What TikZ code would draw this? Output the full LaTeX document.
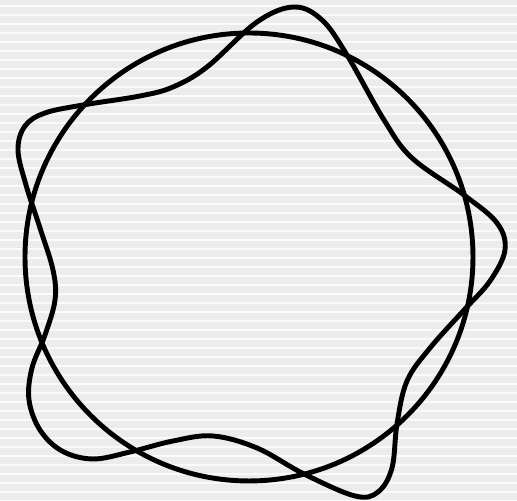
\documentclass[tikz,border=0pt]{standalone}
\usepackage{tikz}
\definecolor{paper}{RGB}{236, 236, 236}
\definecolor{stripe}{RGB}{250, 250, 250}
\definecolor{ink}{RGB}{0, 0, 0}

\begin{document}
\begin{tikzpicture}[x=0.01cm, y=-0.01cm]

  \pgfmathsetmacro{\w}{517}
  \pgfmathsetmacro{\h}{501}
  \pgfmathsetmacro{\r}{224}

  \useasboundingbox (0, 0) rectangle (\w, \h);

  % background
  \fill[paper] (0, 0) rectangle (\w, \h);
  \foreach \y in {6, 15, ..., 501} {
    \fill[stripe] (0, \y - 0.7) rectangle (\w, \y + 0.7);
  }

  \coordinate (c) at (249, 257);

  \draw[ink, line width=1.4pt] (c) circle (\r);

  \draw[ink, line width=1.4pt] plot[smooth cycle, tension=0.6] coordinates {
    (294, 7) (322, 20) (347, 55) (384, 120) (412, 158) (464, 195)
    (497, 223) (505, 250) (490, 281) (465, 309) (430, 348) (407, 381)
    (397, 424) (392, 468) (378, 492) (355, 496) (304, 474) (257, 448)
    (213, 436) (173, 441) (130, 452) (93, 459) (62, 451) (40, 430)
    (29, 400) (32, 368) (45, 335) (55, 300) (53, 270) (40, 228)
    (26, 185) (18, 150) (25, 126) (45, 113) (83, 105) (140, 96)
    (173, 87) (207, 67) (257, 22)
  };

\end{tikzpicture}
\end{document}
